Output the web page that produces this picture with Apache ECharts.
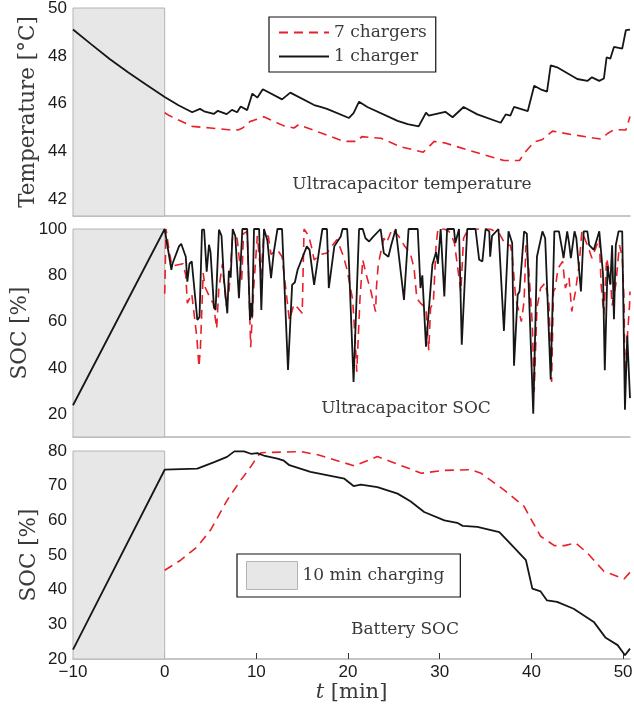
<!DOCTYPE html>
<html>
<head>
<meta charset="utf-8">
<script src="https://cdn.jsdelivr.net/npm/echarts@6/dist/echarts.min.js"></script>
<style>
  html, body { margin: 0; padding: 0; background: #fff; }
  #main { width: 634px; height: 714px; }
</style>
</head>
<body>
<div id="main"></div>
<script>
// data, [t (min), value]
var tempOne = [[-10,49.1],[-8,48.48],[-6,47.87],[-4,47.31],[-2,46.79],[0,46.28],[1.5,45.93],[3.0,45.64],[3.85,45.78],[4.3,45.68],[5.35,45.57],[5.8,45.70],[6.76,45.56],[7.34,45.74],[7.9,45.64],[8.29,45.88],[9.0,45.73],[9.56,46.42],[10.1,46.25],[10.7,46.6],[12.8,46.18],[13.7,46.46],[16.3,45.94],[17.0,45.86],[17.7,45.78],[20.1,45.4],[20.6,45.6],[21.2,46.08],[22.1,45.86],[25.4,45.28],[26.5,45.14],[27.7,45.05],[28.5,45.62],[28.8,45.5],[30.6,45.66],[31.4,45.43],[32.6,45.86],[34.1,45.55],[36.65,45.2],[37.2,45.55],[37.7,45.5],[38.1,45.86],[39.6,45.69],[40.3,46.75],[41.0,46.6],[41.7,46.5],[42.1,47.6],[42.8,47.52],[45.0,47.03],[46.1,46.95],[46.6,47.1],[47.4,46.95],[47.9,47.05],[48.2,47.94],[48.6,47.88],[49.0,48.37],[49.9,48.3],[50.3,49.07],[50.75,49.1]];
var tempSeven = [[0,45.62],[0.5,45.5],[3.0,45.05],[5.0,44.98],[7.0,44.91],[8.0,44.9],[8.5,44.98],[9.3,45.25],[9.7,45.3],[10.3,45.38],[10.8,45.45],[12.3,45.19],[13.0,45.07],[14.1,44.98],[14.6,45.12],[15.1,45.05],[17.0,44.78],[19.55,44.42],[21.0,44.42],[21.5,44.62],[23.6,44.55],[25.7,44.2],[28.2,43.97],[29.4,44.42],[30.5,44.36],[33.1,44.06],[37.0,43.62],[38.7,43.62],[39.2,43.92],[40.3,44.4],[41.2,44.5],[42.3,44.85],[44.5,44.7],[46.8,44.56],[47.6,44.52],[48.3,44.75],[49.0,44.91],[50.3,44.9],[50.75,45.46]];

var ucOne = [[-10,23.9],[0,100],[0.73,82.4],[0.85,85],[1.56,92.5],[1.8,93.6],[2.3,88],[2.47,77.3],[2.7,85],[2.95,86],[3.56,60.7],[3.8,62],[4.07,99.7],[4.3,99.7],[4.58,81.6],[4.83,93.2],[5.0,90],[5.37,66.5],[5.55,65],[5.92,99.7],[6.2,97],[6.45,79],[6.83,63.6],[7.0,82],[7.2,79],[7.42,100],[7.7,97],[8.1,70.1],[8.47,100],[9.0,100],[9.3,60.7],[9.45,68],[9.55,62],[9.74,100],[10.3,100],[10.54,65],[10.83,100],[11.2,95],[11.6,78.8],[11.9,90],[12.3,100],[12.8,100],[13.45,39.1],[13.9,75.9],[14.2,77],[14.5,82.4],[15.5,92.5],[15.8,91],[16.3,75.9],[16.8,89.6],[17.2,100],[17.7,100],[17.9,74.5],[18.5,92.5],[19.2,96.8],[19.4,100],[19.9,100],[20.05,90],[20.6,34],[21.2,100],[21.6,100],[21.9,96],[22.3,94.6],[22.7,96.5],[23.55,100],[23.9,89.6],[24.4,88],[24.7,93],[25.2,100],[26.1,69.4],[26.6,100],[27.6,100],[27.9,74.5],[28.1,80],[28.5,49.2],[29.2,84.7],[29.6,90],[29.8,85],[30.1,100],[30.5,70.9],[30.8,100],[31.55,100],[31.7,94],[32.1,100],[32.4,50],[33.0,100],[33.9,100],[34.3,86.7],[34.65,86],[35.0,100],[35.4,99],[35.5,88],[35.7,97],[36.4,100],[37.0,56],[37.5,99],[37.9,94],[38.1,41],[38.5,71.6],[38.7,73],[39.2,99],[39.5,98],[40.2,20.3],[40.6,88],[41.2,99],[41.5,96],[42.1,35],[42.5,99],[43.0,99],[43.4,90],[43.5,87.4],[43.9,99],[44.1,94],[44.3,87.4],[44.7,99],[44.9,96],[45.4,73],[45.7,99],[46.1,99],[46.3,93],[46.8,91],[47.4,99],[47.8,81],[48.0,39],[48.3,84],[48.6,76],[48.8,93],[49.0,61],[49.2,93],[49.5,99],[49.9,99],[50.2,22],[50.45,54],[50.75,27]];
var ucSeven = [[0,72],[0.15,100],[0.5,90],[0.8,84],[2.0,85],[2.3,80],[2.47,68],[2.95,72],[3.5,53.5],[3.74,40.5],[3.9,49],[4.2,81],[4.4,75],[4.97,70],[5.3,68],[5.67,57],[5.9,74],[6.3,85],[6.7,67],[7.0,72],[7.4,97],[7.9,96],[8.4,77.6],[8.6,98],[9.0,99],[9.38,49],[9.7,74],[10.1,97],[10.5,80],[10.8,97],[11.3,97],[11.6,89],[11.9,90],[12.3,91],[12.8,88],[13.6,60.7],[14.1,67.5],[14.5,66],[15.0,63.6],[15.2,100],[15.7,97],[16.0,92.5],[16.3,86.7],[17.0,89],[17.7,89.6],[18.3,93],[18.8,95.5],[19.5,88.1],[19.9,82.3],[20.5,69.5],[20.8,50.6],[20.95,38.4],[21.3,70],[21.6,86.7],[22.0,80],[22.5,73],[23.0,64.3],[23.1,75],[23.3,85],[23.9,96],[24.2,94],[24.8,100],[25.5,97],[26.1,93],[26.8,89.4],[27.2,83],[27.5,70],[27.9,68],[28.5,65.8],[28.8,47.7],[29.0,66],[29.3,68],[29.6,93],[29.8,100],[30.5,100],[31.0,99],[31.3,97],[31.6,94],[32.3,73],[32.6,96],[33.1,100],[34.1,100],[35.5,100],[36.5,98],[37.2,93],[37.7,93],[37.9,89],[38.1,79],[38.3,69.5],[38.6,65],[38.9,60],[39.2,68.8],[39.4,93],[39.7,83],[40.1,58.6],[40.3,29.7],[40.6,66],[41.0,74.5],[41.5,76.7],[41.9,68.8],[42.2,34],[42.4,73],[42.6,74.5],[42.9,83],[43.4,86],[43.7,74.5],[44.1,79],[44.4,64.4],[44.8,73],[45.2,84.6],[45.5,99],[46.1,93],[46.6,87.4],[47.4,96],[47.6,76],[47.9,63],[48.2,87.4],[48.6,79],[48.8,67],[49.2,76],[49.4,84.6],[49.6,93],[49.9,88],[50.1,70],[50.2,34],[50.5,55.8],[50.7,67],[50.75,73]];

var batOne = [[-10,22.7],[0,74.6],[3.56,74.9],[5.4,76.8],[6.8,78.3],[7.6,79.9],[8.65,79.9],[9.4,79.2],[10.1,79.4],[10.8,78.7],[12.3,77.8],[13.0,77.2],[13.6,75.9],[15.9,74],[19.6,72],[20.6,69.9],[21.4,70.3],[23.2,69.6],[25.4,67.7],[26.8,65.5],[28.3,62.4],[30.5,60],[31.9,59.3],[32.5,58.4],[34.1,58.1],[36.5,56.6],[37.7,53.3],[39.4,48.5],[40.1,40.3],[41.0,39.5],[41.7,36.9],[42.8,36.5],[44.6,34.5],[46.8,30.7],[48.1,26.1],[49.4,24],[50.2,21.1],[50.75,23]];
var batSeven = [[0,45.6],[1.74,48.5],[3.56,52.4],[5.0,57.2],[6.84,65.9],[8.3,71.6],[9.4,75.5],[10.1,78.4],[10.5,79.5],[11.6,79.6],[14.9,79.8],[16.7,78.9],[20.7,75.7],[23.2,78.4],[24.7,76.9],[28.0,73.6],[30.5,74.4],[33.4,74.6],[34.5,73.6],[37.0,68.8],[39.2,64],[39.9,60.6],[41.0,55.4],[42.5,52.7],[43.6,52.7],[44.8,53.5],[46.1,50.6],[47.9,45.3],[50.1,43.1],[50.75,45]];

var chargeWindow = [-10, 0];
var xTicks = [-10, 0, 10, 20, 30, 40, 50];
var tempTicks = [42, 44, 46, 48, 50];
var ucTicks = [20, 40, 60, 80, 100];
var batTicks = [20, 30, 40, 50, 60, 70, 80];

var RED = '#e8202a';
var BLACK = '#161616';
var SERIF = '"DejaVu Serif", "Liberation Serif", serif';
var SANS = '"Liberation Sans", Arial, sans-serif';
var TXT = '#3a3a3a';

var chart = echarts.init(document.getElementById('main'));

function xAxisFor(i, last) {
    return {
        type: 'value', gridIndex: i, min: -10, max: 50.75,
        axisLine: { show: true, lineStyle: { color: '#b4b4b4', width: 1.5 } },
        splitLine: { show: false },
        axisTick: { show: last, inside: true, length: 6, lineStyle: { color: '#333' }, customValues: xTicks },
        axisLabel: {
            show: last, customValues: xTicks, color: '#1a1a1a', fontFamily: SANS, fontSize: 17, margin: 5,
            formatter: function (v) { return v < 0 ? '\u2212' + Math.abs(v) : String(v); }
        },
        name: last ? '{i|t} [min]' : '',
        nameLocation: 'middle', nameGap: 22,
        nameTextStyle: {
            fontFamily: SERIF, fontSize: 21, color: TXT,
            rich: { i: { fontFamily: SERIF, fontStyle: 'italic', fontSize: 21, color: TXT } }
        }
    };
}

function yAxisFor(i, min, max, ticks, name, gap) {
    return {
        type: 'value', gridIndex: i, min: min, max: max,
        axisLine: { show: false }, axisTick: { show: false }, splitLine: { show: false },
        axisLabel: { customValues: ticks, color: '#1a1a1a', fontFamily: SANS, fontSize: 17, margin: 6 },
        name: name, nameLocation: 'middle', nameGap: gap, nameMoveOverlap: false,
        nameTextStyle: { fontFamily: SERIF, fontSize: 21.5, color: TXT }
    };
}

function chargeArea(i) {
    return {
        name: '10 min charging', type: 'line', xAxisIndex: i, yAxisIndex: i, data: [], z: 1,
        itemStyle: { color: '#e6e7e6' },
        markArea: {
            silent: true,
            itemStyle: { color: '#e6e7e6', borderColor: '#b4b4b4', borderWidth: 1 },
            data: [[{ xAxis: chargeWindow[0] }, { xAxis: chargeWindow[1] }]]
        }
    };
}

function lineOf(i, name, data, dashed) {
    return {
        name: name, type: 'line', xAxisIndex: i, yAxisIndex: i, data: data,
        showSymbol: false, symbol: 'none', z: dashed ? 3 : 4,
        itemStyle: { color: dashed ? RED : BLACK },
        lineStyle: { color: dashed ? RED : BLACK, width: dashed ? 1.6 : 1.8, type: dashed ? [9, 6] : 'solid' }
    };
}

var option = {
    animation: false,
    backgroundColor: '#fff',
    grid: [
        { left: 73, top: 8, width: 557, height: 208, outerBoundsMode: 'none' },
        { left: 73, top: 229, width: 557, height: 208, outerBoundsMode: 'none' },
        { left: 73, top: 451, width: 557, height: 208, outerBoundsMode: 'none' }
    ],
    xAxis: [xAxisFor(0, false), xAxisFor(1, false), xAxisFor(2, true)],
    yAxis: [
        yAxisFor(0, 41.3, 50, tempTicks, 'Temperature [\u00b0C]', 34),
        yAxisFor(1, 10.2, 100, ucTicks, 'SOC [%]', 42),
        yAxisFor(2, 20, 80, batTicks, 'SOC [%]', 33)
    ],
    legend: [
        {
            data: ['7 chargers', '1 charger'], orient: 'vertical', left: 269, top: 17,
            itemWidth: 50, itemHeight: 14, itemGap: 7, padding: [7, 9, 7, 9],
            itemStyle: { opacity: 0 },
            borderColor: '#111', borderWidth: 1.2, backgroundColor: '#fff',
            textStyle: { fontFamily: SERIF, fontSize: 17, color: TXT }
        },
        {
            data: [{ name: '10 min charging', icon: 'rect' }], left: 237, top: 554,
            itemWidth: 51, itemHeight: 28, padding: [7, 16, 7, 9],
            borderColor: '#111', borderWidth: 1.2, backgroundColor: '#fff',
            itemStyle: { color: '#e6e7e6', borderColor: '#b4b4b4', borderWidth: 1 },
            textStyle: { fontFamily: SERIF, fontSize: 17, color: TXT }
        }
    ],
    graphic: [
        { type: 'text', x: 412, y: 185, style: { text: 'Ultracapacitor temperature', font: '17px ' + SERIF, fill: TXT, textAlign: 'center', textVerticalAlign: 'middle' } },
        { type: 'text', x: 406, y: 409, style: { text: 'Ultracapacitor SOC', font: '17px ' + SERIF, fill: TXT, textAlign: 'center', textVerticalAlign: 'middle' } },
        { type: 'text', x: 405, y: 630, style: { text: 'Battery SOC', font: '17px ' + SERIF, fill: TXT, textAlign: 'center', textVerticalAlign: 'middle' } }
    ],
    series: [
        chargeArea(0), chargeArea(1), chargeArea(2),
        lineOf(0, '7 chargers', tempSeven, true),
        lineOf(0, '1 charger', tempOne, false),
        lineOf(1, '7 chargers', ucSeven, true),
        lineOf(1, '1 charger', ucOne, false),
        lineOf(2, '7 chargers', batSeven, true),
        lineOf(2, '1 charger', batOne, false)
    ]
};

chart.setOption(option);
</script>
</body>
</html>
